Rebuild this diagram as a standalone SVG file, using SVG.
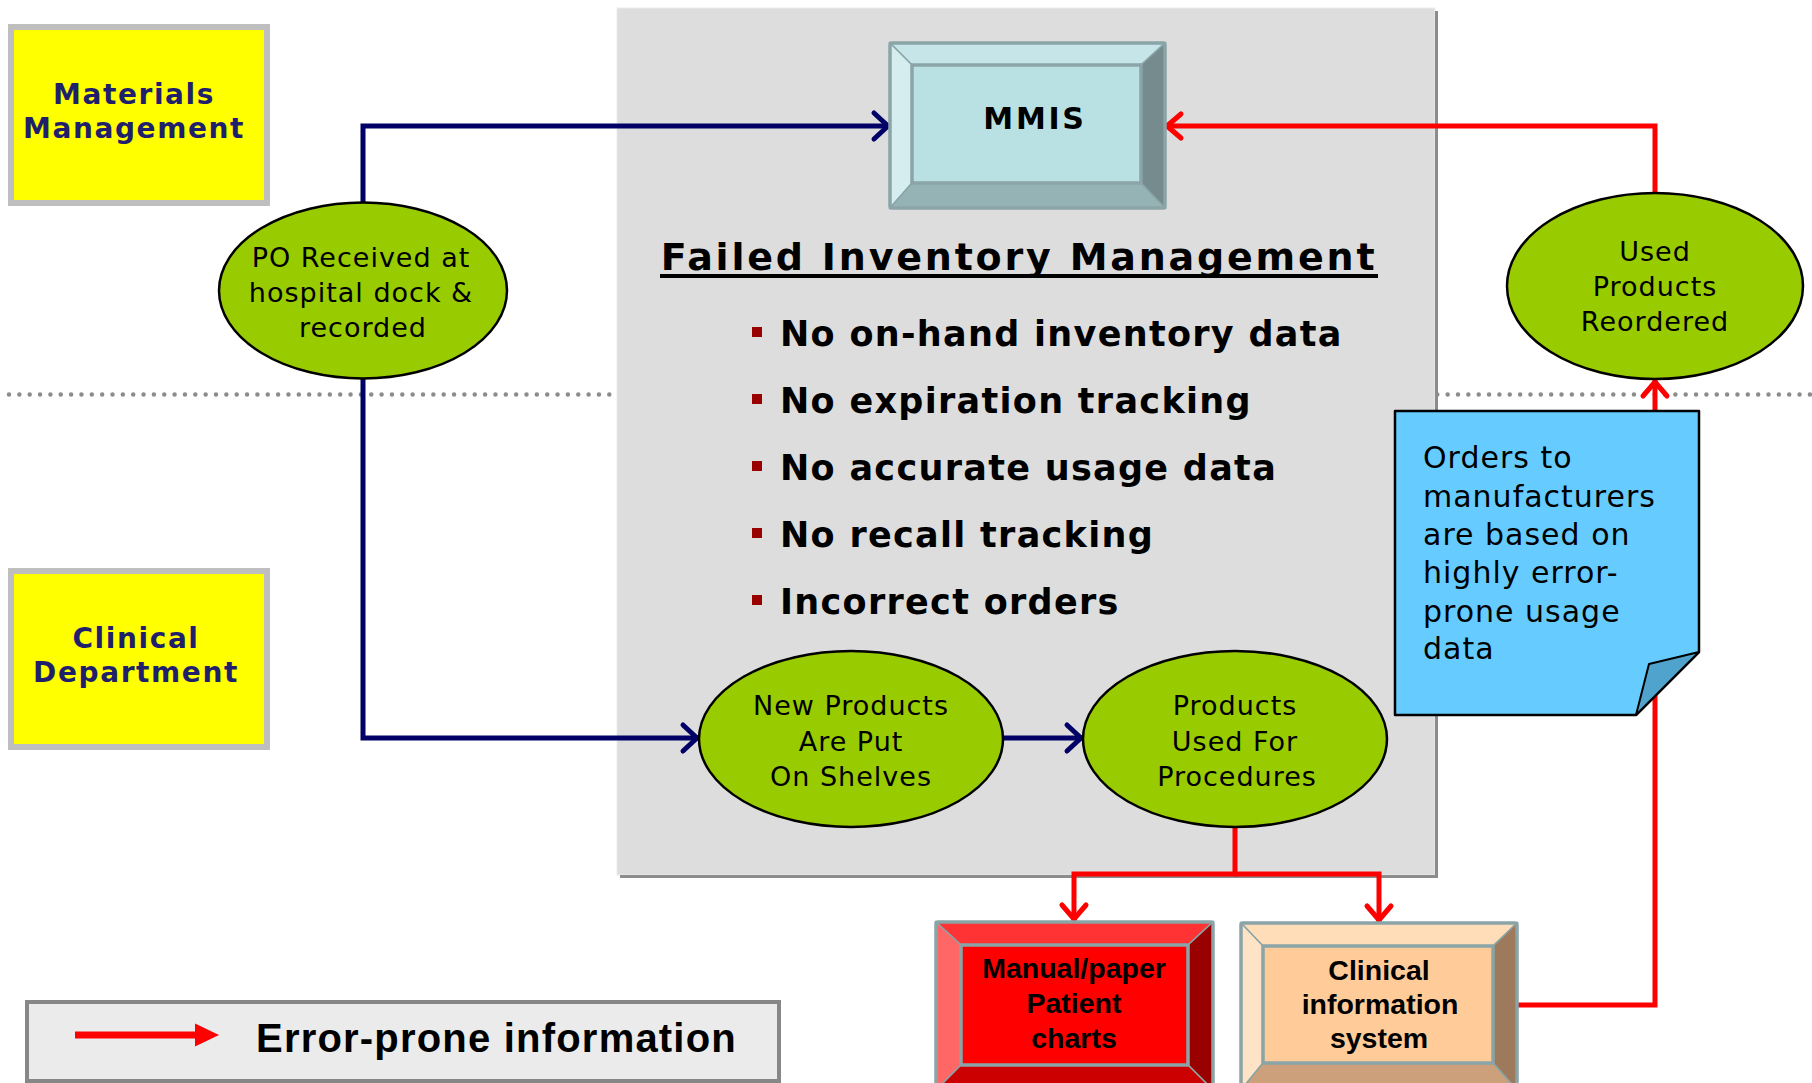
<svg xmlns="http://www.w3.org/2000/svg" width="1812" height="1083" viewBox="0 0 1812 1083">
<defs>
<style>
.lane{fill:#ffff00;stroke:#bfbfbf;stroke-width:6}
.lanet{font-family:"DejaVu Sans",Verdana,sans-serif;font-weight:bold;font-size:28px;fill:#1f1f6b;text-anchor:middle;letter-spacing:1.6px}
.ell{fill:#99cc00;stroke:#000;stroke-width:2.5}
.et{font-family:"DejaVu Sans",Verdana,sans-serif;font-size:27px;fill:#000;text-anchor:middle;letter-spacing:1px}
.blue{fill:none;stroke:#000066;stroke-width:5}
.red{fill:none;stroke:#ff0000;stroke-width:5}
.bv{stroke:#8aa4a7;stroke-width:1.5}
.bvo{fill:none;stroke:#8aa4a7;stroke-width:3.5}
.bt{font-family:"Liberation Sans",Arial,sans-serif;font-weight:bold;font-size:28.5px;fill:#000;text-anchor:middle}
.bul{font-family:"DejaVu Sans",Verdana,sans-serif;font-weight:bold;font-size:35px;fill:#000;letter-spacing:1.3px}
.sq{fill:#990000}
.note{font-family:"DejaVu Sans",Verdana,sans-serif;font-size:30px;fill:#000;letter-spacing:1px}
</style>
<marker id="arB" markerUnits="userSpaceOnUse" viewBox="-20 -20 40 40" markerWidth="40" markerHeight="40" refX="0" refY="0" orient="auto"><path d="M-16,-13 L-2,0 L-16,13" fill="none" stroke="#000066" stroke-width="5" stroke-linecap="round" stroke-linejoin="round"/></marker>
<marker id="arR" markerUnits="userSpaceOnUse" viewBox="-20 -20 40 40" markerWidth="40" markerHeight="40" refX="0" refY="0" orient="auto"><path d="M-16,-12 L-2,0 L-16,12" fill="none" stroke="#ff0000" stroke-width="5" stroke-linecap="round" stroke-linejoin="round"/></marker>
</defs>
<rect width="1812" height="1083" fill="#ffffff"/>
<line x1="9" y1="394.5" x2="1810" y2="394.5" stroke="#8c8c8c" stroke-width="4.5" stroke-linecap="round" stroke-dasharray="0 10.35"/>

<g id="panel">
<rect x="617" y="8" width="818" height="867" fill="#dddddd" stroke="#ececec" stroke-width="1"/>
<path d="M1436.5,11 V876.5 H620" fill="none" stroke="#8c8c8c" stroke-width="3"/>
<text x="1019" y="270" text-anchor="middle" font-family="DejaVu Sans,Verdana,sans-serif" font-weight="bold" font-size="38" letter-spacing="2.8" fill="#000">Failed Inventory Management</text>
<rect x="660" y="274" width="718" height="4" fill="#000"/>
<rect class="sq" x="752" y="327" width="10" height="10"/>
<text class="bul" x="780" y="346">No on-hand inventory data</text>
<rect class="sq" x="752" y="394" width="10" height="10"/>
<text class="bul" x="780" y="413">No expiration tracking</text>
<rect class="sq" x="752" y="461" width="10" height="10"/>
<text class="bul" x="780" y="480">No accurate usage data</text>
<rect class="sq" x="752" y="528" width="10" height="10"/>
<text class="bul" x="780" y="547">No recall tracking</text>
<rect class="sq" x="752" y="595" width="10" height="10"/>
<text class="bul" x="780" y="614">Incorrect orders</text>
</g>

<g id="connectors">
<path class="blue" d="M363,202 V126 H890" marker-end="url(#arB)"/>
<path class="blue" d="M363,379 V738 H699" marker-end="url(#arB)"/>
<path class="blue" d="M1003,738 H1083" marker-end="url(#arB)"/>
<path class="red" d="M1235,827 V874 H1074 V921" marker-end="url(#arR)"/>
<path class="red" d="M1235,874 H1379 V922" marker-end="url(#arR)"/>
<path class="red" d="M1517,1005 H1655 V380" marker-end="url(#arR)"/>
<path class="red" d="M1655,193 V126 H1165" marker-end="url(#arR)"/>
</g>

<g id="materials-management">
<rect class="lane" x="11" y="27" width="256" height="176"/>
<text class="lanet" x="134" y="104">Materials</text>
<text class="lanet" x="134" y="138">Management</text>
</g>

<g id="clinical-department">
<rect class="lane" x="11" y="571" width="256" height="176"/>
<text class="lanet" x="136" y="648">Clinical</text>
<text class="lanet" x="136" y="682">Department</text>
</g>

<g id="po-received">
<ellipse class="ell" cx="363" cy="290.5" rx="144" ry="88"/>
<text class="et" x="361" y="267">PO Received at</text>
<text class="et" x="361" y="302">hospital dock &amp;</text>
<text class="et" x="363" y="337">recorded</text>
</g>

<g id="mmis">
<polygon class="bv" points="890,43 1165,43 1141,65 912,65" fill="#c6e5e8"/>
<polygon class="bv" points="890,43 912,65 912,183 890,208" fill="#d6edf0"/>
<polygon class="bv" points="1165,43 1165,208 1141,183 1141,65" fill="#758b8d"/>
<polygon class="bv" points="890,208 1165,208 1141,183 912,183" fill="#95b2b4"/>
<rect x="912" y="65" width="229" height="118" fill="#b9e0e3"/>
<rect class="bvo" x="912" y="65" width="229" height="118"/>
<rect class="bvo" x="890" y="43" width="275" height="165" rx="2"/>
<text x="1035" y="129" text-anchor="middle" font-family="DejaVu Sans,Verdana,sans-serif" font-weight="bold" font-size="30" letter-spacing="2.7" fill="#000">MMIS</text>
</g>

<g id="used-products-reordered">
<ellipse class="ell" cx="1655" cy="286" rx="148" ry="93"/>
<text class="et" x="1655" y="261">Used</text>
<text class="et" x="1655" y="296">Products</text>
<text class="et" x="1655" y="331">Reordered</text>
</g>

<g id="new-products">
<ellipse class="ell" cx="851" cy="739" rx="152" ry="88"/>
<text class="et" x="851" y="715">New Products</text>
<text class="et" x="851" y="751">Are Put</text>
<text class="et" x="851" y="786">On Shelves</text>
</g>

<g id="products-used">
<ellipse class="ell" cx="1235" cy="739" rx="152" ry="88"/>
<text class="et" x="1235" y="715">Products</text>
<text class="et" x="1235" y="751">Used For</text>
<text class="et" x="1237" y="786">Procedures</text>
</g>

<g id="orders-note">
<path d="M1395,411 H1699 V652 L1636,715 H1395 Z" fill="#66ccff" stroke="#000" stroke-width="2.5" stroke-linejoin="round"/>
<path d="M1636,715 L1649,664 L1699,652 Z" fill="#4fa3cc" stroke="#000" stroke-width="2" stroke-linejoin="round"/>
<text class="note" x="1423" y="468">Orders to</text>
<text class="note" x="1423" y="507">manufacturers</text>
<text class="note" x="1423" y="545">are based on</text>
<text class="note" x="1423" y="583">highly error-</text>
<text class="note" x="1423" y="622">prone usage</text>
<text class="note" x="1423" y="659">data</text>
</g>

<g id="manual-paper-charts">
<polygon class="bv" points="936,922 1213,922 1188,945 961,945" fill="#ff3333"/>
<polygon class="bv" points="936,922 961,945 961,1065 936,1090" fill="#ff6666"/>
<polygon class="bv" points="1213,922 1213,1090 1188,1065 1188,945" fill="#990000"/>
<polygon class="bv" points="936,1090 1213,1090 1188,1065 961,1065" fill="#cc0000"/>
<rect x="961" y="945" width="227" height="120" fill="#ff0000"/>
<rect class="bvo" x="961" y="945" width="227" height="120"/>
<rect class="bvo" x="936" y="922" width="277" height="168" rx="2"/>
<text class="bt" x="1074" y="978">Manual/paper</text>
<text class="bt" x="1074" y="1013">Patient</text>
<text class="bt" x="1074" y="1048">charts</text>
</g>

<g id="clinical-information-system">
<polygon class="bv" points="1241,923 1517,923 1493,946 1263,946" fill="#ffddb9"/>
<polygon class="bv" points="1241,923 1263,946 1263,1063 1241,1090" fill="#ffe3c7"/>
<polygon class="bv" points="1517,923 1517,1090 1493,1063 1493,946" fill="#9c7a5b"/>
<polygon class="bv" points="1241,1090 1517,1090 1493,1063 1263,1063" fill="#cca07a"/>
<rect x="1263" y="946" width="230" height="117" fill="#ffcc99"/>
<rect class="bvo" x="1263" y="946" width="230" height="117"/>
<rect class="bvo" x="1241" y="923" width="276" height="167" rx="2"/>
<text class="bt" x="1379" y="980">Clinical</text>
<text class="bt" x="1380" y="1014">information</text>
<text class="bt" x="1379" y="1048">system</text>
</g>

<g id="legend">
<rect x="27" y="1002" width="752" height="79" fill="#ebebeb" stroke="#878787" stroke-width="4"/>
<line x1="75" y1="1035" x2="197" y2="1035" stroke="#ff0000" stroke-width="7"/>
<polygon points="195,1023.5 219,1035 195,1046.5" fill="#ff0000"/>
<text x="256" y="1052" font-family="Liberation Sans,Arial,sans-serif" font-weight="bold" font-size="40" letter-spacing="1.2" fill="#000">Error-prone information</text>
</g>
</svg>
